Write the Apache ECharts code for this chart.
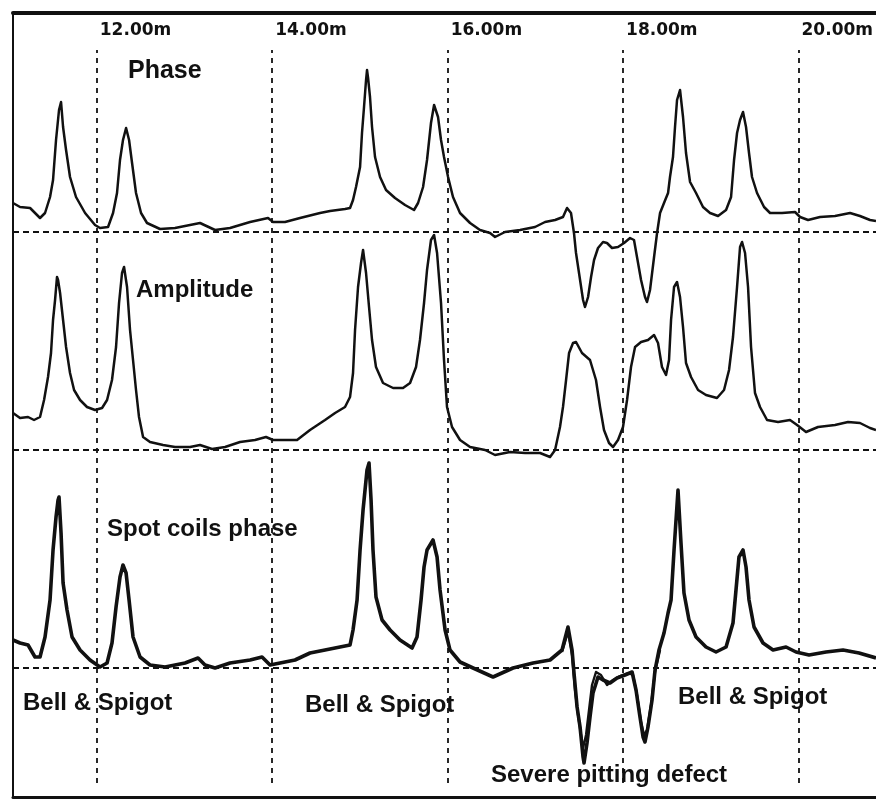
<!DOCTYPE html>
<html>
<head>
<meta charset="utf-8">
<title>Pipe scan traces</title>
<script src="https://cdn.jsdelivr.net/npm/echarts@6/dist/echarts.min.js"></script>
<style>
  html, body { margin: 0; padding: 0; background: #fff; }
  #chart { width: 876px; height: 801px; }
</style>
</head>
<body>
<div id="chart"></div>
<script>
// Distance along the pipe (m)
const distanceRange = [11.045, 20.852];
const distanceTicks = [12, 14, 16, 18, 20];

// Trace titles and annotations
const traceNames = ['Phase', 'Amplitude', 'Spot coils phase'];
const jointLabel = 'Bell & Spigot';
const defectLabel = 'Severe pitting defect';

// Phase trace: [distance m, signal]
const phaseTrace = [
  [11.045,1.45],[11.125,1.25],[11.239,1.2],[11.352,0.7],[11.409,0.95],[11.466,1.75],[11.5,2.6],
  [11.534,4.6],[11.568,6.1],[11.591,6.5],[11.614,5.25],[11.648,4.1],[11.693,2.75],[11.761,1.75],
  [11.864,0.95],[11.977,0.35],[12.034,0.2],[12.125,0.25],[12.182,0.95],[12.227,1.95],[12.261,3.6],
  [12.295,4.6],[12.33,5.2],[12.364,4.6],[12.398,3.45],[12.443,1.95],[12.5,0.95],[12.568,0.45],
  [12.716,0.15],[12.886,0.2],[13.17,0.45],[13.341,0.1],[13.511,0.2],[13.739,0.5],[13.943,0.7],
  [14.0,0.5],[14.136,0.5],[14.307,0.7],[14.534,0.95],[14.648,1.05],[14.818,1.15],[14.875,1.2],
  [14.909,1.6],[14.943,2.25],[14.989,3.25],[15.011,4.95],[15.034,6.25],[15.057,7.6],[15.068,8.1],
  [15.08,7.7],[15.102,6.75],[15.125,5.25],[15.159,3.75],[15.216,2.75],[15.284,2.1],[15.386,1.7],
  [15.5,1.35],[15.602,1.1],[15.648,1.45],[15.705,2.25],[15.75,3.6],[15.795,5.45],[15.83,6.35],
  [15.841,6.4],[15.875,5.75],[15.909,4.6],[15.943,3.75],[15.989,2.75],[16.045,1.75],[16.125,0.95],
  [16.239,0.45],[16.352,0.1],[16.466,-0.05],[16.523,-0.25],[16.636,0],[16.807,0.1],[16.977,0.25],
  [17.091,0.5],[17.205,0.6],[17.295,0.75],[17.341,1.2],[17.386,0.95],[17.42,-0.05],[17.443,-1.05],
  [17.489,-2.4],[17.523,-3.4],[17.545,-3.75],[17.58,-3.25],[17.614,-2.25],[17.648,-1.4],[17.693,-0.8],
  [17.75,-0.5],[17.795,-0.55],[17.852,-0.8],[17.92,-0.75],[17.989,-0.55],[18.057,-0.3],[18.102,-0.4],
  [18.136,-1.25],[18.182,-2.4],[18.227,-3.25],[18.25,-3.5],[18.284,-2.9],[18.33,-1.25],[18.364,-0.05],
  [18.398,0.95],[18.443,1.45],[18.489,1.95],[18.511,2.75],[18.545,3.75],[18.568,5.25],[18.591,6.6],
  [18.625,7.1],[18.659,5.75],[18.693,3.95],[18.739,2.5],[18.807,1.95],[18.886,1.25],[18.966,0.95],
  [19.057,0.8],[19.148,1.1],[19.205,1.75],[19.239,3.6],[19.273,4.95],[19.307,5.6],[19.341,6.0],
  [19.375,5.25],[19.409,3.95],[19.443,2.75],[19.5,1.95],[19.58,1.25],[19.648,0.95],[19.784,0.95],
  [19.932,1.0],[19.989,0.75],[20.08,0.6],[20.216,0.75],[20.386,0.8],[20.557,0.95],[20.67,0.8],
  [20.784,0.6],[20.852,0.55]
];

// Amplitude trace: [distance m, signal]
const amplitudeTrace = [
  [11.045,1.85],[11.125,1.6],[11.216,1.65],[11.284,1.5],[11.352,1.65],[11.398,2.5],[11.443,3.65],
  [11.477,4.85],[11.5,6.5],[11.523,7.5],[11.545,8.65],[11.557,8.5],[11.58,7.85],[11.614,6.5],
  [11.648,5.15],[11.693,3.85],[11.739,3.0],[11.807,2.5],[11.886,2.15],[11.977,2.0],[12.057,2.1],
  [12.114,2.5],[12.17,3.5],[12.216,5.15],[12.25,7.35],[12.284,8.85],[12.307,9.15],[12.341,8.15],
  [12.375,6.0],[12.409,4.5],[12.443,3.0],[12.477,1.65],[12.523,0.65],[12.602,0.4],[12.75,0.25],
  [12.886,0.15],[13.057,0.15],[13.17,0.25],[13.307,0.05],[13.455,0.15],[13.625,0.4],[13.795,0.5],
  [13.92,0.65],[14.0,0.5],[14.136,0.5],[14.273,0.5],[14.42,1.0],[14.591,1.5],[14.705,1.85],
  [14.818,2.15],[14.875,2.65],[14.909,3.85],[14.932,6.0],[14.966,8.15],[15.0,9.35],[15.023,10.0],
  [15.057,8.85],[15.091,7.15],[15.125,5.5],[15.17,4.15],[15.25,3.35],[15.364,3.1],[15.477,3.1],
  [15.557,3.35],[15.625,4.15],[15.67,5.5],[15.716,7.35],[15.75,9.0],[15.795,10.5],[15.83,10.75],
  [15.864,9.85],[15.909,7.35],[15.943,4.5],[15.977,2.15],[16.034,1.15],[16.125,0.5],[16.239,0.15],
  [16.409,0],[16.523,-0.25],[16.693,-0.1],[16.864,-0.15],[17.034,-0.15],[17.148,-0.35],[17.205,0],
  [17.261,1.15],[17.295,2.15],[17.33,3.5],[17.364,4.85],[17.409,5.35],[17.443,5.4],[17.511,4.85],
  [17.602,4.5],[17.67,3.5],[17.716,2.15],[17.761,1.0],[17.818,0.35],[17.864,0.15],[17.92,0.5],
  [17.977,1.15],[18.023,2.5],[18.068,4.15],[18.114,5.15],[18.182,5.4],[18.261,5.5],[18.33,5.75],
  [18.375,5.35],[18.42,4.15],[18.466,3.75],[18.5,4.5],[18.523,6.5],[18.557,8.15],[18.591,8.4],
  [18.625,7.65],[18.659,6.15],[18.693,4.35],[18.75,3.65],[18.83,3.0],[18.92,2.75],[19.045,2.6],
  [19.125,3.0],[19.182,4.0],[19.227,5.65],[19.273,8.15],[19.307,10.15],[19.33,10.4],[19.364,9.85],
  [19.398,8.15],[19.432,5.15],[19.477,2.85],[19.534,2.15],[19.614,1.5],[19.739,1.4],[19.875,1.5],
  [19.955,1.25],[20.057,0.9],[20.193,1.15],[20.386,1.25],[20.534,1.4],[20.67,1.35],[20.784,1.1],
  [20.852,1.0]
];

// Spot coils phase, main trace: [distance m, signal]
const spotCoilTrace = [
  [11.045,1.4],[11.125,1.25],[11.216,1.15],[11.295,0.55],[11.352,0.55],[11.409,1.55],[11.466,3.4],
  [11.5,5.9],[11.534,7.55],[11.557,8.4],[11.568,8.55],[11.591,6.75],[11.614,4.25],[11.659,2.9],
  [11.716,1.55],[11.807,0.9],[11.92,0.4],[12.034,0.05],[12.114,0.25],[12.17,1.25],[12.216,3.05],
  [12.261,4.55],[12.295,5.15],[12.33,4.75],[12.364,3.4],[12.409,1.55],[12.489,0.55],[12.602,0.15],
  [12.773,0.05],[13.0,0.25],[13.148,0.5],[13.227,0.15],[13.341,0],[13.511,0.25],[13.739,0.4],
  [13.875,0.55],[13.966,0.15],[14.08,0.25],[14.25,0.4],[14.42,0.75],[14.591,0.9],[14.761,1.05],
  [14.875,1.15],[14.909,1.9],[14.955,3.4],[14.989,5.9],[15.023,7.9],[15.068,9.9],[15.091,10.25],
  [15.114,8.4],[15.136,5.9],[15.17,3.55],[15.239,2.4],[15.33,1.9],[15.443,1.4],[15.58,1.0],
  [15.636,1.55],[15.682,3.4],[15.716,5.05],[15.75,5.9],[15.818,6.4],[15.864,5.55],[15.898,3.9],
  [15.955,1.9],[16.011,0.9],[16.125,0.3],[16.273,0],[16.5,-0.45],[16.727,0],[16.955,0.25],
  [17.148,0.4],[17.284,0.9],[17.352,2.05],[17.398,0.9],[17.42,-0.25],[17.455,-1.95],[17.489,-2.95],
  [17.523,-4.45],[17.534,-4.75],[17.568,-3.75],[17.602,-2.45],[17.636,-1.25],[17.693,-0.45],
  [17.75,-0.6],[17.83,-0.75],[17.909,-0.5],[18.0,-0.35],[18.08,-0.2],[18.125,-1.1],[18.17,-2.45],
  [18.205,-3.45],[18.227,-3.7],[18.261,-2.95],[18.307,-1.6],[18.341,-0.1],[18.386,0.9],[18.443,1.75],
  [18.489,2.75],[18.523,3.4],[18.557,5.9],[18.602,8.9],[18.636,6.25],[18.67,3.75],[18.727,2.4],
  [18.807,1.55],[18.92,1.05],[19.034,0.8],[19.148,1.05],[19.227,2.25],[19.261,3.9],[19.295,5.55],
  [19.341,5.9],[19.375,5.05],[19.409,3.4],[19.466,2.05],[19.568,1.25],[19.682,0.9],[19.83,1.05],
  [19.943,0.8],[20.091,0.65],[20.284,0.8],[20.477,0.9],[20.659,0.75],[20.852,0.5]
];

// Spot coils phase, second coil through the defect zone: [distance m, signal]
const spotCoilDefectTrace = [
  [17.284,0.8],[17.352,1.8],[17.398,0.65],[17.432,-1.1],[17.466,-2.35],[17.5,-3.35],[17.523,-4.0],
  [17.557,-3.35],[17.591,-2.1],[17.625,-0.85],[17.67,-0.2],[17.727,-0.35],[17.795,-0.85],[17.864,-0.6],
  [17.943,-0.4],[18.034,-0.25],[18.091,-0.35],[18.136,-1.35],[18.182,-2.7],[18.216,-3.35],[18.25,-3.1],
  [18.295,-1.85],[18.341,-0.2],[18.398,0.9]
];

const INK = '#111';
const FONT = '"Liberation Sans", Arial, sans-serif';

const frame = { left: 13, right: 0, top: 13, bottom: 4 };

function hiddenX(gridIndex, extra) {
  return Object.assign({
    type: 'value', gridIndex: gridIndex,
    min: distanceRange[0], max: distanceRange[1],
    axisLine: { show: false }, axisTick: { show: false },
    axisLabel: { show: false }, splitLine: { show: false }
  }, extra || {});
}
function hiddenY(gridIndex, min, max, extra) {
  return Object.assign({
    type: 'value', gridIndex: gridIndex, min: min, max: max,
    axisLine: { show: false }, axisTick: { show: false },
    axisLabel: { show: false }, splitLine: { show: false }
  }, extra || {});
}

// Dashed zero line drawn under each trace
const baseLine = {
  symbol: 'none', silent: true, label: { show: false },
  lineStyle: { color: INK, type: [6, 4], width: 1.8 },
  data: [{ yAxis: 0 }]
};

function trace(name, data, idx, width, withBase) {
  const s = {
    name: name, type: 'line', data: data,
    xAxisIndex: idx, yAxisIndex: idx,
    showSymbol: false, symbol: 'none', smooth: false, silent: true,
    lineStyle: { color: INK, width: width, join: 'round' }, z: 3
  };
  if (withBase) s.markLine = baseLine;
  return s;
}

const textStyleBase = { fill: INK, fontFamily: FONT, fontWeight: 'bold', fontSize: 24, textVerticalAlign: 'middle' };
function label(text, x, y, size) {
  return { type: 'text', x: x, y: y, z: 10, style: Object.assign({}, textStyleBase, { text: text, fontSize: size || 24 }) };
}

const chart = echarts.init(document.getElementById('chart'), null, { renderer: 'canvas' });
chart.setOption({
  backgroundColor: '#fff',
  animation: false,
  grid: [
    Object.assign({}, frame),
    Object.assign({}, frame),
    Object.assign({}, frame),
    { left: 13, right: 0, top: 50, bottom: 18 }
  ],
  xAxis: [
    hiddenX(0, { position: 'top', axisLine: { show: true, onZero: false, lineStyle: { color: INK, width: 4 } } }),
    hiddenX(1),
    hiddenX(2, { position: 'bottom', axisLine: { show: true, onZero: false, lineStyle: { color: INK, width: 3 } } }),
    hiddenX(3, {
      position: 'top',
      axisLabel: {
        show: true, customValues: distanceTicks, align: 'left', margin: 11,
        color: INK, fontFamily: '"DejaVu Sans", sans-serif', fontWeight: 'bold', fontSize: 17,
        padding: [0, 0, 0, 3],
        formatter: function (v) { return v.toFixed(2) + 'm'; }
      }
    })
  ],
  yAxis: [
    hiddenY(0, -28.25, 10.95, { axisLine: { show: true, onZero: false, lineStyle: { color: INK, width: 2 } } }),
    hiddenY(1, -17.35, 21.85),
    hiddenY(2, -6.45, 32.75),
    hiddenY(3, 0, 1)
  ],
  series: [
    {
      name: 'distance marks', type: 'line', data: [], xAxisIndex: 3, yAxisIndex: 3, silent: true,
      markLine: {
        symbol: 'none', silent: true, label: { show: false },
        lineStyle: { color: INK, type: [5, 5], width: 1.8 },
        data: distanceTicks.map(function (d) { return { xAxis: d }; })
      }
    },
    trace(traceNames[0], phaseTrace, 0, 2.5, true),
    trace(traceNames[1], amplitudeTrace, 1, 2.5, true),
    trace(traceNames[2], spotCoilTrace, 2, 3.6, true),
    trace(traceNames[2] + ' 2', spotCoilDefectTrace, 2, 2.4, false)
  ],
  graphic: [
    label(traceNames[0], 128, 71, 25),
    label(traceNames[1], 136, 290),
    label(traceNames[2], 107, 529),
    label(jointLabel, 23, 703),
    label(jointLabel, 305, 705),
    label(jointLabel, 678, 697),
    label(defectLabel, 491, 775)
  ]
});
</script>
</body>
</html>
